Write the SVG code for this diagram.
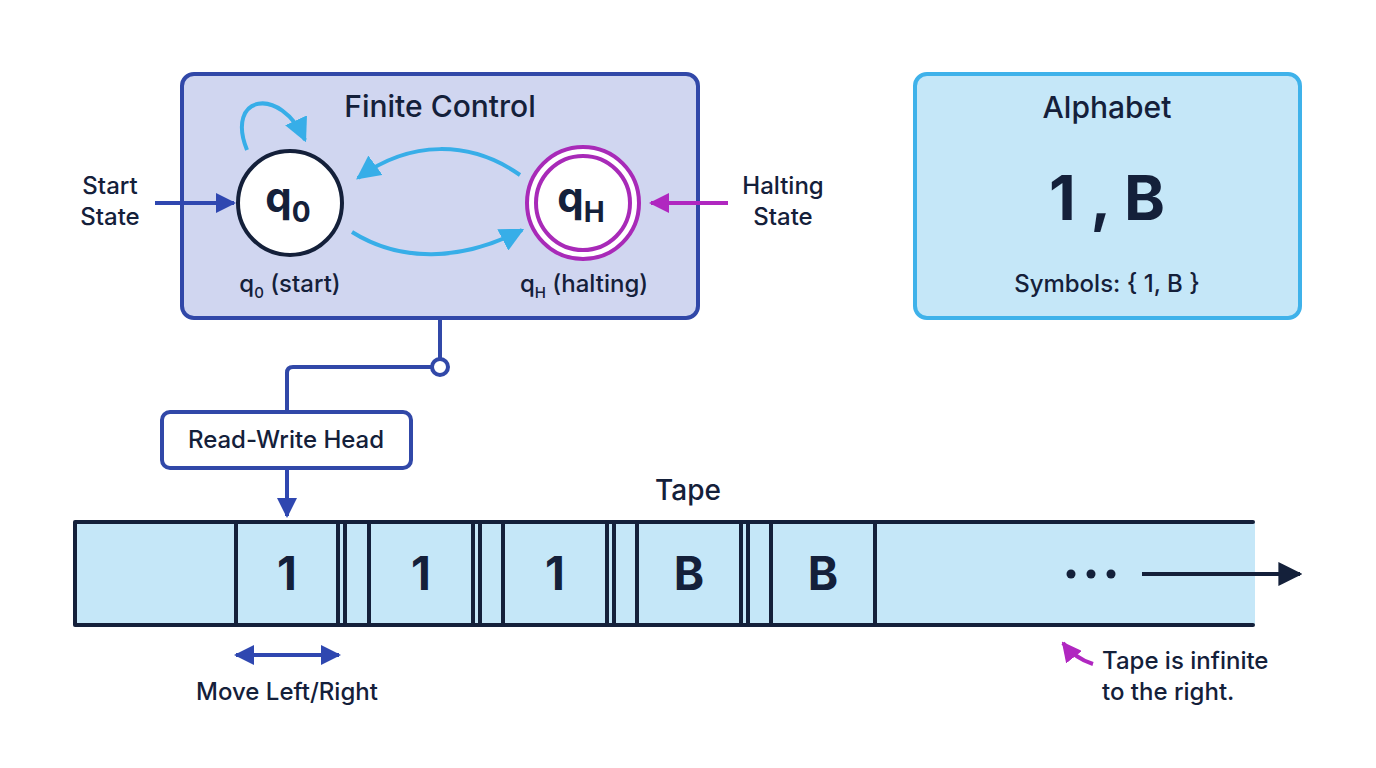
<svg xmlns="http://www.w3.org/2000/svg" width="1376" height="768" viewBox="0 0 1376 768">
<style>
text{font-family:Inter,"Liberation Sans",sans-serif;fill:#14203a;font-weight:500}
.lbl{font-size:24px}
.bd{font-weight:bold}
.cell{font-size:46px;font-weight:bold;text-anchor:middle}
.tl{stroke:#14203a;stroke-width:4;fill:none}
</style>
<defs>
<marker id="ab" viewBox="0 0 10 10" refX="9" refY="5" markerWidth="5" markerHeight="5" orient="auto-start-reverse"><path d="M0,0L10,5L0,10z" fill="#2f47b0"/></marker>
<marker id="ac" viewBox="0 0 10 10" refX="9" refY="5" markerWidth="6" markerHeight="6" orient="auto"><path d="M0,0L10,5L0,10z" fill="#37aee8"/></marker>
<marker id="am" viewBox="0 0 10 10" refX="9" refY="5" markerWidth="5" markerHeight="5" orient="auto"><path d="M0,0L10,5L0,10z" fill="#b027c0"/></marker>
<marker id="ak" viewBox="0 0 10 10" refX="9" refY="5" markerWidth="6" markerHeight="6" orient="auto"><path d="M0,0L10,5L0,10z" fill="#14203a"/></marker>
</defs>
<rect width="1376" height="768" fill="#fff"/>
<g id="finite-control">
<rect x="182" y="74" width="516" height="244" rx="12" fill="#d0d6f0" stroke="#3148a8" stroke-width="4"/>
<text x="440" y="117" font-size="30" text-anchor="middle">Finite Control</text>
<text x="290" y="292" class="lbl" text-anchor="middle">q<tspan font-size="15" dy="6">0</tspan><tspan dy="-6"> (start)</tspan></text>
<text x="584" y="292" class="lbl" text-anchor="middle">q<tspan font-size="15" dy="6">H</tspan><tspan dy="-6"> (halting)</tspan></text>
</g>
<g id="q0">
<circle cx="290" cy="203" r="52" fill="#fff" stroke="#14203a" stroke-width="4"/>
<text x="288" y="212" font-size="42" class="bd" text-anchor="middle">q<tspan font-size="28" dy="10">0</tspan></text>
</g>
<g id="qH">
<circle cx="583" cy="203" r="56" fill="#fff" stroke="#a82ab8" stroke-width="4"/>
<circle cx="583" cy="203" r="47" fill="none" stroke="#a82ab8" stroke-width="4"/>
<text x="581" y="212" font-size="42" class="bd" text-anchor="middle">q<tspan font-size="28" dy="10">H</tspan></text>
</g>
<g id="alphabet">
<rect x="915" y="74" width="385" height="244" rx="12" fill="#c5e7f8" stroke="#3fb2ea" stroke-width="4"/>
<text x="1107" y="118" font-size="30" text-anchor="middle">Alphabet</text>
<text x="1107" y="220" font-size="62" class="bd" text-anchor="middle">1 , B</text>
<text x="1107" y="292" class="lbl" text-anchor="middle">Symbols: { 1, B }</text>
</g>
<g id="start-label"><text x="110" y="194" class="lbl" text-anchor="middle">Start</text><text x="110" y="225" class="lbl" text-anchor="middle">State</text></g>
<g id="halt-label"><text x="783" y="194" class="lbl" text-anchor="middle">Halting</text><text x="783" y="225" class="lbl" text-anchor="middle">State</text></g>
<g id="head">
<rect x="162" y="412" width="249" height="56" rx="8" fill="#fff" stroke="#3148a8" stroke-width="4"/>
<text x="286" y="448" class="lbl" text-anchor="middle">Read-Write Head</text>
</g>
<g id="tape">
<text x="688" y="500" font-size="28" text-anchor="middle">Tape</text>
<rect x="75" y="522" width="1180" height="103" fill="#c5e7f8"/>
<line class="tl" x1="75" y1="522" x2="1253" y2="522" stroke-linecap="round"/>
<line class="tl" x1="75" y1="625" x2="1253" y2="625" stroke-linecap="round"/>
<path class="tl" d="M75,522V625M236,522V625M338,522V625M345,522V625M369,522V625M473,522V625M480,522V625M503,522V625M607,522V625M614,522V625M637,522V625M741,522V625M748,522V625M771,522V625M875,522V625"/>
<text class="cell" x="287" y="590">1</text>
<text class="cell" x="421" y="590">1</text>
<text class="cell" x="555" y="590">1</text>
<text class="cell" x="689" y="590">B</text>
<text class="cell" x="823" y="590">B</text>
<circle cx="1071" cy="574" r="4.5" fill="#14203a"/><circle cx="1091" cy="574" r="4.5" fill="#14203a"/><circle cx="1111" cy="574" r="4.5" fill="#14203a"/>
</g>
<g id="tape-note"><text x="1102" y="669" class="lbl">Tape is infinite</text><text x="1102" y="700" class="lbl">to the right.</text></g>
<g id="move-label"><text x="287" y="700" class="lbl" text-anchor="middle">Move Left/Right</text></g>
<g id="connectors" fill="none" stroke-width="4">
<path d="M155,203H234" stroke="#2f47b0" marker-end="url(#ab)"/>
<path d="M728,203H651" stroke="#b027c0" marker-end="url(#am)"/>
<path d="M247,150C225,95 280,85 305,140" stroke="#37aee8" marker-end="url(#ac)"/>
<path d="M520,175C470,140 410,140 358,178" stroke="#37aee8" marker-end="url(#ac)"/>
<path d="M352,232C400,262 460,262 522,230" stroke="#37aee8" marker-end="url(#ac)"/>
<path d="M440,320V360" stroke="#3148a8"/>
<circle cx="440" cy="367" r="8" fill="#fff" stroke="#3148a8" stroke-width="4"/>
<path d="M432,367H293Q287,367 287,373V412" stroke="#3148a8"/>
<path d="M287,468V516" stroke="#2f47b0" marker-end="url(#ab)"/>
<path d="M236,655H339" stroke="#2f47b0" marker-start="url(#ab)" marker-end="url(#ab)"/>
<path d="M1142,574H1300" stroke="#14203a" marker-end="url(#ak)"/>
<path d="M1093,664C1080,660 1070,652 1063,643" stroke="#b027c0" marker-end="url(#am)"/>
</g>
</svg>
